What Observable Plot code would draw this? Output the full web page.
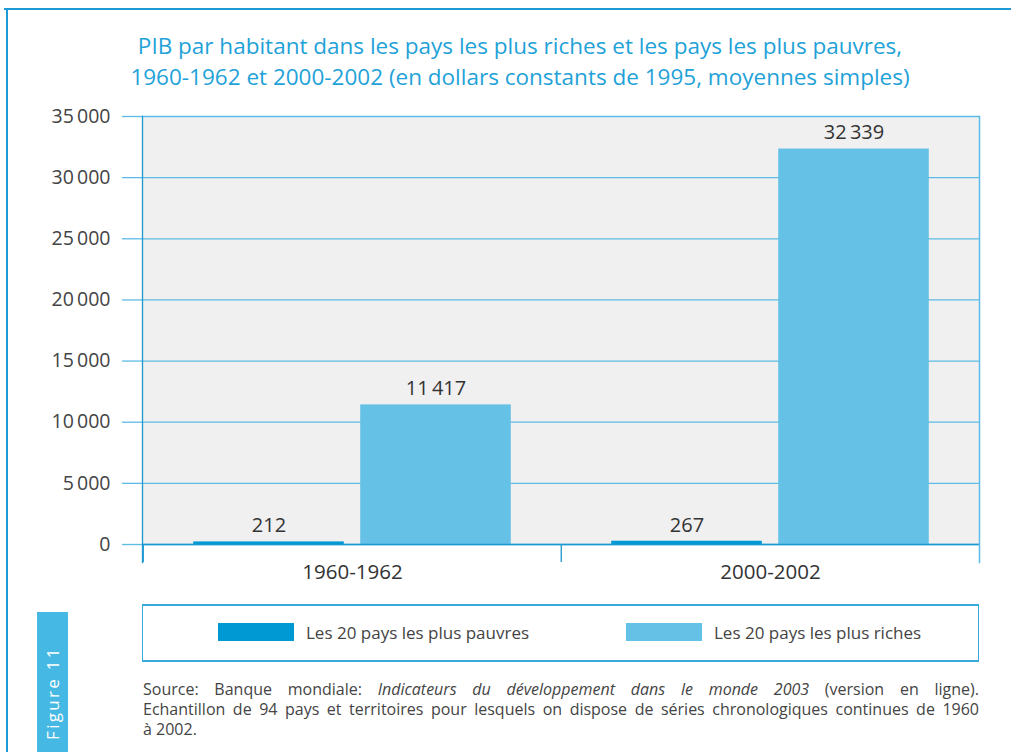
<!DOCTYPE html>
<html><head><meta charset="utf-8">
<script src="https://cdn.jsdelivr.net/npm/d3@7"></script>
<script src="https://cdn.jsdelivr.net/npm/@observablehq/plot@0.6"></script>
<style>
body{margin:0;background:#fff;font-family:"Open Sans",sans-serif;}
#wrap{position:relative;width:1011px;height:752px;overflow:hidden;background:#fff;}
#frameTop{position:absolute;left:4px;top:8px;width:1007px;height:0;border-top:2px solid #1d9bd5;}
#frameLeft{position:absolute;left:6px;top:8px;width:0;height:744px;border-left:2px solid #1d9bd5;}
#title{position:absolute;left:0;top:30px;width:1040px;text-align:center;color:#1fa2d8;font-size:22.5px;line-height:31px;}
#chart{position:absolute;left:0;top:0;}
#legend{position:absolute;left:142px;top:604px;width:835px;height:54px;border-top:2px solid #3aa8dc;border-bottom:2px solid #3aa8dc;border-left:1px solid #3aa8dc;border-right:1px solid #3aa8dc;}
.item{position:absolute;top:16px;height:20px;display:flex;align-items:center;font-size:17px;color:#444;}
.sw{width:76px;height:18px;margin-right:12px;}
#side{position:absolute;left:37px;top:612px;width:31px;height:140px;background:#45b9e3;}
#sideText{position:absolute;left:52px;top:693px;transform:translate(-50%,-50%) rotate(-90deg);color:#fff;font-size:17px;letter-spacing:2.3px;white-space:nowrap;}
#source{position:absolute;left:143px;top:679px;width:836px;font-size:16px;line-height:20px;color:#444;}
#source .j{text-align:justify;text-align-last:justify;white-space:nowrap;}
</style></head><body>
<div id="wrap">
  <div id="frameTop"></div><div id="frameLeft"></div>
  <div id="title"></div>
  <div id="chart"></div>
  <div id="legend"></div>
  <div id="side"></div><div id="sideText"></div>
  <div id="source"></div>
</div>
<script>
// ---- data ----
const titleLines = ["PIB par habitant dans les pays les plus riches et les pays les plus pauvres,",
  "1960-1962 et 2000-2002 (en dollars constants de 1995, moyennes simples)"];
const periods = ["1960-1962", "2000-2002"];
const seriesNames = ["Les 20 pays les plus pauvres", "Les 20 pays les plus riches"];
const poorest = [212, 267];
const richest = [11417, 32339];
const yTicks = [0, 5000, 10000, 15000, 20000, 25000, 30000, 35000];
const seriesColors = ["#0099d3", "#66c1e6"];
const figureLabel = "Figure 11";
const sourceLines = [
  "Source: Banque mondiale: <i>Indicateurs du développement dans le monde 2003</i> (version en ligne).",
  "Echantillon de 94 pays et territoires pour lesquels on dispose de séries chronologiques continues de 1960",
  "à 2002."
];

// ---- styles ----
const gridColor = "#5cbce5";
const axisColor = "#1a97d0";
const W = 1011, H = 600, mL = 142, mR = 32, mT = 116, mB = 56;
const bw = (W - mL - mR) / periods.length;     // band width per period
const outer = bw * 0.12, gap = bw * 0.038;
const barW = (bw - 2 * outer - gap) / 2;

const rows = [];
periods.forEach((p, i) => {
  rows.push({period: p, series: seriesNames[0], value: poorest[i]});
  rows.push({period: p, series: seriesNames[1], value: richest[i]});
});
const fmt = d => d3.format(",")(d).replace(/,/g, "\u2009");

const insets = [
  {insetLeft: outer, insetRight: bw - outer - barW},
  {insetLeft: outer + barW + gap, insetRight: outer}
];
const centers = insets.map(s => s.insetLeft + barW / 2 - bw / 2);

const marks = [
  Plot.frame({fill: "#f0f0f0", stroke: null}),
  Plot.gridY(yTicks, {stroke: gridColor, strokeOpacity: 1, strokeWidth: 1.3}),
  Plot.axisY(yTicks, {tickSize: 20, tickPadding: 12, stroke: gridColor, strokeWidth: 1.3,
    tickFormat: fmt, fontSize: 19.5, fill: "#444", label: null})
];
seriesNames.forEach((s, j) => {
  const sub = rows.filter(r => r.series === s);
  marks.push(Plot.barY(sub, {x: "period", y: "value", fill: seriesColors[j], ...insets[j]}));
  marks.push(Plot.text(sub, {x: "period", y: "value", text: d => fmt(d.value), dx: centers[j], dy: -16,
    fontSize: 20, fill: "#333"}));
});
marks.push(
  Plot.ruleY([0], {stroke: axisColor, strokeWidth: 1.5}),
  Plot.frame({anchor: "left", stroke: axisColor, strokeWidth: 1.3, insetBottom: -18}),
  Plot.frame({anchor: "right", stroke: gridColor, strokeWidth: 1.5, insetBottom: -18}),
  Plot.axisX(periods, {tickSize: 18, dx: -bw / 2, tickFormat: () => "", stroke: axisColor, strokeWidth: 1.3, label: null}),
  Plot.axisX(periods, {tickSize: 0, tickPadding: 20, fontSize: 20.5, fill: "#333", label: null})
);

const chart = Plot.plot({
  width: W, height: H, marginTop: mT, marginBottom: mB, marginLeft: mL, marginRight: mR,
  style: {fontFamily: "Open Sans", fontSize: "18px", color: "#444", background: "transparent", overflow: "visible"},
  x: {domain: periods, padding: 0, label: null},
  y: {domain: [0, 35000], label: null},
  marks
});
document.getElementById("chart").appendChild(chart);

document.getElementById("title").innerHTML = titleLines.join("<br>");

const legend = document.getElementById("legend");
const legendLefts = [75, 483];
seriesNames.forEach((s, j) => {
  const it = document.createElement("div");
  it.className = "item";
  it.style.left = legendLefts[j] + "px";
  it.innerHTML = `<div class="sw" style="background:${seriesColors[j]}"></div><span>${s}</span>`;
  legend.appendChild(it);
});
document.getElementById("sideText").textContent = figureLabel;
document.getElementById("source").innerHTML = sourceLines
  .map((l, i) => `<div class="${i < sourceLines.length - 1 ? "j" : ""}">${l}</div>`).join("");
</script>
</body></html>
